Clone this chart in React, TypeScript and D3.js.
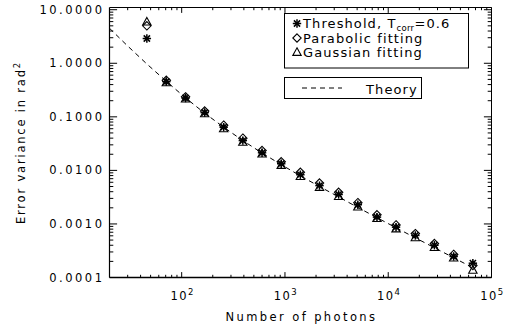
import React from 'react';
import * as d3 from 'd3';

// photon counts (x) for the measured points
const photons = [46, 71, 109, 167, 255, 391, 600, 920, 1410, 2160, 3310, 5080, 7780, 11900, 18300, 28000, 43000, 66000];
// error variance for each method
const threshold = [2.9, 0.455, 0.224, 0.12, 0.064, 0.036, 0.0213, 0.0133, 0.0083, 0.0052, 0.00355, 0.00228, 0.00134, 0.00087, 0.00061, 0.0004, 0.000247, 0.000185];
const parabolic = [5.0, 0.48, 0.236, 0.128, 0.07, 0.04, 0.0235, 0.0145, 0.0092, 0.0058, 0.0039, 0.0025, 0.00148, 0.00096, 0.00066, 0.00043, 0.00027, 0.000168];
const gaussian = [6.0, 0.44, 0.218, 0.116, 0.061, 0.034, 0.0206, 0.0126, 0.0078, 0.0049, 0.0033, 0.0021, 0.00128, 0.00082, 0.00056, 0.00037, 0.000235, 0.000139];
// theory curve
const theoryN = [20, 30, 46, 71, 109, 167, 255, 391, 600, 920, 1410, 2160, 3310, 5080, 7780, 11900, 18300, 28000, 43000, 62000];
const theoryVar = [4.5, 2.1, 0.97, 0.46, 0.226, 0.117, 0.064, 0.036, 0.0211, 0.0128, 0.0079, 0.005, 0.0032, 0.00203, 0.00131, 0.00085, 0.00055, 0.00036, 0.000234, 0.000162];
// axis ticks
const yTickValues = [1e-4, 1e-3, 1e-2, 1e-1, 1, 10];
const yTickLabels = ['0.0001', '0.0010', '0.0100', '0.1000', '1.0000', '10.0000'];
const xTickExps = [2, 3, 4, 5];
const legendLabels = ['Threshold', 'Parabolic fitting', 'Gaussian fitting', 'Theory'];

const L = 109.5, R = 491.5, T = 7.5, B = 277.5;
const FONT = 'DejaVu Sans, Verdana, sans-serif';

function Asterisk({ cx, cy, r = 4.2 }: { cx: number; cy: number; r?: number }) {
  const d = r * 0.74;
  return (
    <g stroke="#000" strokeWidth={1.5}>
      <line x1={cx - r} y1={cy} x2={cx + r} y2={cy} />
      <line x1={cx} y1={cy - r} x2={cx} y2={cy + r} />
      <line x1={cx - d} y1={cy - d} x2={cx + d} y2={cy + d} />
      <line x1={cx - d} y1={cy + d} x2={cx + d} y2={cy - d} />
    </g>
  );
}
function Diamond({ cx, cy, r = 4.2 }: { cx: number; cy: number; r?: number }) {
  return <path d={`M${cx},${cy - r}L${cx + r},${cy}L${cx},${cy + r}L${cx - r},${cy}Z`} fill="none" stroke="#000" strokeWidth={1.1} />;
}
function Triangle({ cx, cy, r = 4.2 }: { cx: number; cy: number; r?: number }) {
  return <path d={`M${cx},${cy - r}L${cx + r},${cy + r * 0.8}L${cx - r},${cy + r * 0.8}Z`} fill="none" stroke="#000" strokeWidth={1.1} />;
}

export default function App() {
  const x = d3.scaleLog().domain([20, 1e5]).range([L, R]);
  const y = d3.scaleLog().domain([1e-4, 11]).range([B, T]);

  const xMinor: number[] = [];
  for (let e = 1; e <= 4; e++) for (let m = 2; m <= 9; m++) {
    const v = m * Math.pow(10, e);
    if (v > 20 && v < 1e5) xMinor.push(v);
  }
  const yMinor: number[] = [];
  for (let e = -4; e <= 0; e++) for (let m = 2; m <= 9; m++) yMinor.push(m * Math.pow(10, e));

  const xMaj = 5.4, xMin = 2.7, yMaj = 7.6, yMin = 3.8;

  const line = d3.line<number>().x((_, i) => x(theoryN[i])).y((d) => y(d));

  return (
    <svg width={513} height={328} style={{ position: 'absolute', left: 0, top: 0, background: '#fff' }} fontFamily={FONT}>
      <rect width={513} height={328} fill="#fff" />
      {/* theory */}
      <path d={line(theoryVar) || ''} fill="none" stroke="#000" strokeWidth={1} strokeDasharray="5,4" />
      {/* points */}
      {photons.map((n, i) => <Asterisk key={'a' + i} cx={x(n)} cy={y(threshold[i])} />)}
      {photons.map((n, i) => <Diamond key={'d' + i} cx={x(n)} cy={y(parabolic[i])} />)}
      {photons.map((n, i) => <Triangle key={'t' + i} cx={x(n)} cy={y(gaussian[i])} />)}

      {/* axes box */}
      <g stroke="#000" fill="none">
        <line x1={L} y1={T} x2={R} y2={T} strokeWidth={1} />
        <line x1={R} y1={T} x2={R} y2={B} strokeWidth={1} />
        <line x1={L} y1={T} x2={L} y2={B} strokeWidth={1.2} />
        <line x1={L} y1={B} x2={R} y2={B} strokeWidth={1.6} />
        {xTickExps.map((e) => {
          const px = x(Math.pow(10, e));
          return (
            <g key={'xt' + e}>
              <line x1={px} y1={B} x2={px} y2={B - xMaj} />
              <line x1={px} y1={T} x2={px} y2={T + xMaj} />
            </g>
          );
        })}
        {xMinor.map((v, i) => {
          const px = x(v);
          return (
            <g key={'xm' + i}>
              <line x1={px} y1={B} x2={px} y2={B - xMin} />
              <line x1={px} y1={T} x2={px} y2={T + xMin} />
            </g>
          );
        })}
        {yTickValues.map((v, i) => {
          const py = y(v);
          return (
            <g key={'yt' + i}>
              <line x1={L} y1={py} x2={L + yMaj} y2={py} />
              <line x1={R} y1={py} x2={R - yMaj} y2={py} />
            </g>
          );
        })}
        {yMinor.map((v, i) => {
          const py = y(v);
          return (
            <g key={'ym' + i}>
              <line x1={L} y1={py} x2={L + yMin} y2={py} />
              <line x1={R} y1={py} x2={R - yMin} y2={py} />
            </g>
          );
        })}
      </g>

      {/* y tick labels */}
      {yTickValues.map((v, i) => (
        <text key={'yl' + i} x={104.5} y={y(v) + 4} textAnchor="end" fontSize={11.5} letterSpacing={2.5} fill="#000">
          {yTickLabels[i]}
        </text>
      ))}
      {/* x tick labels */}
      {xTickExps.map((e) => (
        <text key={'xl' + e} x={x(Math.pow(10, e)) + 1} y={300} textAnchor="middle" fontSize={11.5} letterSpacing={1.5} fill="#000">
          10<tspan fontSize={8.5} dy={-5}>{e}</tspan>
        </text>
      ))}
      {/* axis titles */}
      <text x={(L + R) / 2 + 1} y={321} textAnchor="middle" fontSize={11.5} letterSpacing={2.4} fill="#000">Number of photons</text>
      <text transform={`translate(25,${(T + B) / 2}) rotate(-90)`} textAnchor="middle" fontSize={11.5} letterSpacing={1.8} fill="#000">
        Error variance in rad<tspan fontSize={8.5} dy={-5}>2</tspan>
      </text>

      {/* legend 1 */}
      <rect x={284.5} y={13.5} width={184} height={54.5} fill="#fff" stroke="#000" strokeWidth={1} />
      <Asterisk cx={297} cy={23.5} r={4.2} />
      <Diamond cx={297} cy={38} r={4.2} />
      <Triangle cx={297} cy={52} r={4.2} />
      <text x={303} y={28} fontSize={13} letterSpacing={1.1} fill="#000">
        {legendLabels[0]}, T<tspan fontSize={8.5} dy={2.5} letterSpacing={0.3}>corr</tspan><tspan dy={-2.5} letterSpacing={1.1}>=0.6</tspan>
      </text>
      <text x={303} y={42.5} fontSize={13} letterSpacing={1.1} fill="#000">{legendLabels[1]}</text>
      <text x={303} y={56.5} fontSize={13} letterSpacing={1.1} fill="#000">{legendLabels[2]}</text>

      {/* legend 2 */}
      <rect x={284.5} y={77.5} width={137} height={21} fill="#fff" stroke="#000" strokeWidth={1} />
      <line x1={302} y1={88} x2={342} y2={88} stroke="#000" strokeWidth={1} strokeDasharray="5,4" />
      <text x={366} y={93.5} fontSize={13} letterSpacing={1.1} fill="#000">{legendLabels[3]}</text>
    </svg>
  );
}
